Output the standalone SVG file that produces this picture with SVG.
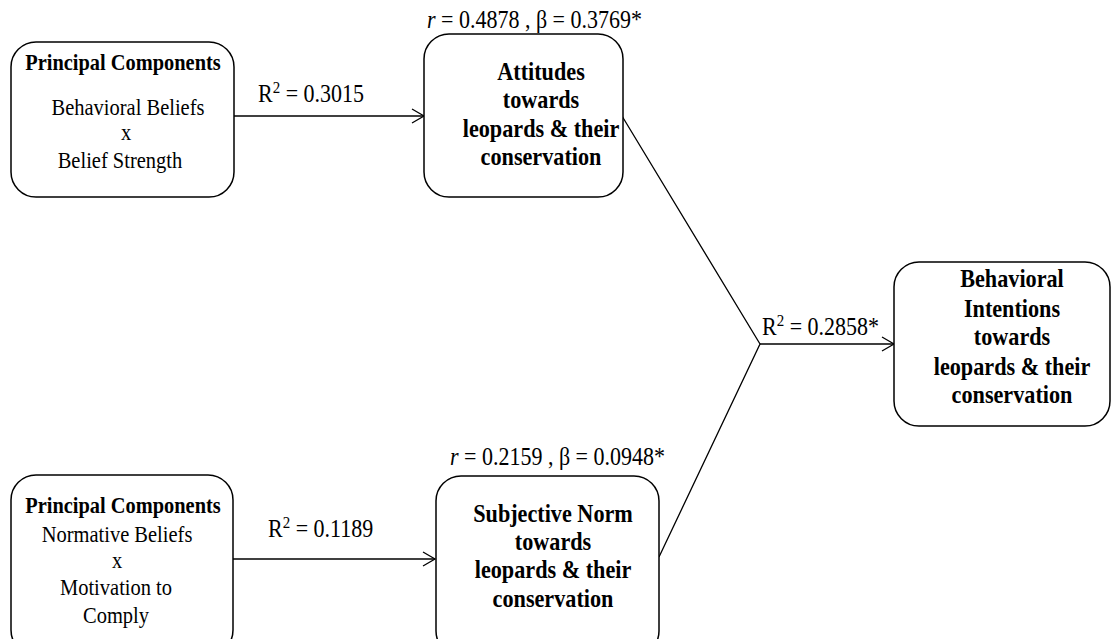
<svg xmlns="http://www.w3.org/2000/svg" width="1112" height="639" viewBox="0 0 1112 639">
<defs>
<style>
.box{fill:#fff;stroke:#000;stroke-width:1.5}
.t{font-family:"Liberation Serif","Times New Roman",serif;font-size:20.5px;fill:#000;text-anchor:middle}
.h{font-weight:bold;font-size:20.4px}
.b{font-weight:bold;font-size:22.2px}
.l{font-family:"Liberation Serif","Times New Roman",serif;font-size:22px;fill:#000}
.c{fill:none;stroke:#000;stroke-width:1.3}
</style>
<marker id="ah" markerWidth="16" markerHeight="16" refX="13" refY="8" orient="auto" markerUnits="userSpaceOnUse">
<path d="M1,1 L13,8 L1,15" fill="none" stroke="#000" stroke-width="1.3"/>
</marker>
</defs>
<rect width="1112" height="639" fill="#fff"/>
<g id="connectors">
<line class="c" x1="234" y1="116" x2="424" y2="116" marker-end="url(#ah)"/>
<line class="c" x1="233" y1="559" x2="435" y2="559" marker-end="url(#ah)"/>
<polyline class="c" points="622,116 760,344 659,557"/>
<line class="c" x1="760" y1="344" x2="894" y2="344" marker-end="url(#ah)"/>
<text class="l" transform="translate(258,102) scale(1,1.1)">R<tspan font-size="15" dy="-8">2</tspan><tspan dy="8"> = 0.3015</tspan></text>
<text class="l" transform="translate(268,537) scale(1,1.1)">R<tspan font-size="15" dy="-8">2</tspan><tspan dy="8"> = 0.1189</tspan></text>
<text class="l" transform="translate(762,335) scale(1,1.1)">R<tspan font-size="15" dy="-8">2</tspan><tspan dy="8"> = 0.2858*</tspan></text>
<text class="l" transform="translate(427,28) scale(1,1.1)"><tspan font-style="italic">r</tspan> = 0.4878 , β = 0.3769*</text>
<text class="l" transform="translate(450,465) scale(1,1.1)"><tspan font-style="italic">r</tspan> = 0.2159 , β = 0.0948*</text>
</g>
<g id="pc1">
<rect class="box" x="11" y="42" width="223" height="155" rx="25"/>
<text class="t h" transform="translate(123,70) scale(1,1.1)">Principal Components</text>
<text class="t" transform="translate(128,115) scale(1,1.1)">Behavioral Beliefs</text>
<text class="t" transform="translate(126,140) scale(1,1.1)">x</text>
<text class="t" transform="translate(120,168) scale(1,1.1)">Belief Strength</text>
</g>
<g id="attitudes">
<rect class="box" x="424" y="34" width="199" height="163" rx="25"/>
<text class="t b" transform="translate(541,80) scale(1,1.1)">Attitudes</text>
<text class="t b" transform="translate(541,108) scale(1,1.1)">towards</text>
<text class="t b" transform="translate(541,137) scale(1,1.1)">leopards &amp; their</text>
<text class="t b" transform="translate(541,165) scale(1,1.1)">conservation</text>
</g>
<g id="intentions">
<rect class="box" x="894" y="262" width="216" height="164" rx="25"/>
<text class="t b" transform="translate(1012,287) scale(1,1.1)">Behavioral</text>
<text class="t b" transform="translate(1012,317) scale(1,1.1)">Intentions</text>
<text class="t b" transform="translate(1012,345) scale(1,1.1)">towards</text>
<text class="t b" transform="translate(1012,375) scale(1,1.1)">leopards &amp; their</text>
<text class="t b" transform="translate(1012,403) scale(1,1.1)">conservation</text>
</g>
<g id="pc2">
<rect class="box" x="11" y="475" width="222" height="180" rx="25"/>
<text class="t h" transform="translate(123,513) scale(1,1.1)">Principal Components</text>
<text class="t" transform="translate(117,542) scale(1,1.1)">Normative Beliefs</text>
<text class="t" transform="translate(117,568) scale(1,1.1)">x</text>
<text class="t" transform="translate(116,595) scale(1,1.1)">Motivation to</text>
<text class="t" transform="translate(116,623) scale(1,1.1)">Comply</text>
</g>
<g id="subjective">
<rect class="box" x="436" y="476" width="223" height="180" rx="25"/>
<text class="t b" transform="translate(553,522) scale(1,1.1)">Subjective Norm</text>
<text class="t b" transform="translate(553,550) scale(1,1.1)">towards</text>
<text class="t b" transform="translate(553,578) scale(1,1.1)">leopards &amp; their</text>
<text class="t b" transform="translate(553,607) scale(1,1.1)">conservation</text>
</g>
</svg>
